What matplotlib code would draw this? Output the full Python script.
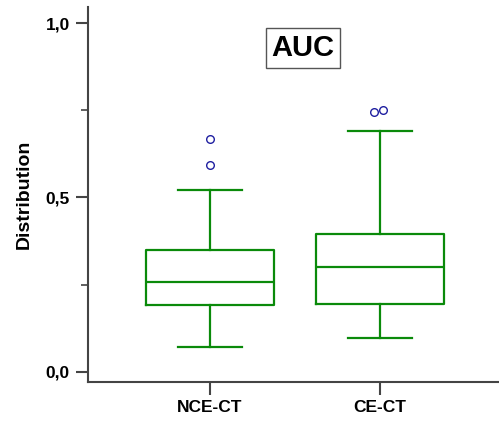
import matplotlib.pyplot as plt

plt.rcParams['font.family'] = ['Liberation Sans', 'DejaVu Sans']

# box statistics
groups = ['NCE-CT', 'CE-CT']
whis_lo = [0.072, 0.096]
q1 = [0.191, 0.196]
medians = [0.258, 0.301]
q3 = [0.349, 0.394]
whis_hi = [0.521, 0.691]
outliers = [[0.593, 0.669], [0.746, 0.751]]

stats = []
for i in range(len(groups)):
    stats.append({'label': groups[i], 'whislo': whis_lo[i], 'q1': q1[i],
                  'med': medians[i], 'q3': q3[i], 'whishi': whis_hi[i],
                  'fliers': []})

fig = plt.figure(figsize=(4.99, 4.30), dpi=100)
ax = fig.add_axes([0.1764, 0.1123, 0.8236, 0.8714])

green = '#0a8a0a'
line = dict(color=green, linewidth=1.6)
ax.bxp(stats, positions=[1, 2], widths=0.75, capwidths=0.375,
       boxprops=line, whiskerprops=line, capprops=line, medianprops=line)

# outliers, nudged sideways where they overlap (as the original software does)
nudge = [[0.0, 0.0], [-0.034, 0.016]]
for i, vals in enumerate(outliers):
    xs = [i + 1 + d for d in nudge[i]]
    ax.plot(xs, vals, 'o', markerfacecolor='none', markeredgecolor='#1f1fa0',
            markersize=5.5, markeredgewidth=1.0)

ax.set_xlim(0.282, 2.7)
ax.set_ylim(-0.028, 1.046)
ax.set_yticks([0.0, 0.5, 1.0])
ax.set_yticklabels(['0,0', '0,5', '1,0'])
ax.set_yticks([0.25, 0.75], minor=True)
ax.set_xticks([1, 2])
ax.set_xticklabels(groups)

for s in ['top', 'right']:
    ax.spines[s].set_visible(False)
for s in ['left', 'bottom']:
    ax.spines[s].set_color('#444444')
    ax.spines[s].set_linewidth(1.5)

ax.tick_params(axis='both', which='major', length=9, width=1.5, color='#444444',
               labelsize=12.5, pad=4)
ax.tick_params(axis='y', which='minor', length=5, width=1.2, color='#444444')
for lab in ax.get_xticklabels() + ax.get_yticklabels():
    lab.set_fontweight('bold')

ax.set_ylabel('Distribution', fontsize=14, fontweight='bold', labelpad=9)

fig.text(0.607, 0.888, 'AUC', fontsize=21, fontweight='bold', ha='center', va='center',
         bbox=dict(boxstyle='square,pad=0.2', facecolor='white', edgecolor='#555555',
                   linewidth=1.0))

fig.savefig('out.png', dpi=100)
